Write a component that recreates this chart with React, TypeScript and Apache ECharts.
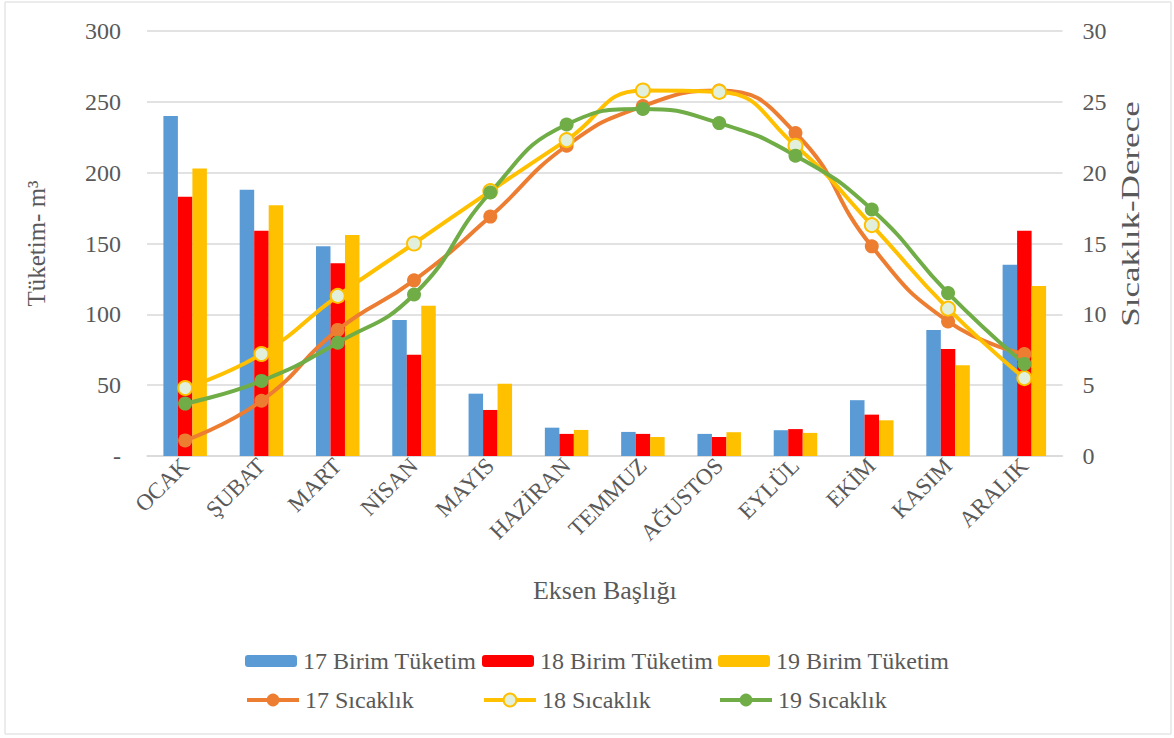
import React, { useEffect, useRef } from "react";
import * as echarts from "echarts";

const months = ["OCAK", "ŞUBAT", "MART", "NİSAN", "MAYIS", "HAZİRAN", "TEMMUZ", "AĞUSTOS", "EYLÜL", "EKİM", "KASIM", "ARALIK"];
const usage17 = [240, 188, 148, 96, 44, 20, 17, 15.6, 18.2, 39.4, 89, 135];
const usage18 = [183, 159, 136, 71.5, 32.5, 15.6, 15.6, 13.4, 19, 29.2, 75.5, 159];
const usage19 = [203, 177, 156, 106, 51, 18.4, 13.4, 16.8, 16.3, 25.2, 64, 120];
const temp17 = [1.1, 3.9, 8.9, 12.4, 16.9, 21.9, 24.7, 25.8, 22.8, 14.8, 9.5, 7.2];
const temp18 = [4.8, 7.2, 11.3, 15.0, 18.7, 22.3, 25.8, 25.7, 21.9, 16.3, 10.4, 5.5];
const temp19 = [3.7, 5.3, 8.0, 11.4, 18.6, 23.4, 24.5, 23.5, 21.2, 17.4, 11.5, 6.5];
const leftTicks = ["-", "50", "100", "150", "200", "250", "300"];
const rightTicks = ["0", "5", "10", "15", "20", "25", "30"];

const FONT = "'Liberation Serif', 'Times New Roman', serif";
const GREY = "#595959";

export default function App() {
  const ref = useRef<HTMLDivElement>(null);
  useEffect(() => {
    if (!ref.current) return;
    const chart = echarts.init(ref.current, null, { renderer: "svg" });
    const lineSeries = (name: string, data: number[], color: string, fill: string) => ({
      name,
      type: "line",
      yAxisIndex: 1,
      data,
      smooth: 0.5,
      symbol: "circle",
      symbolSize: 14,
      z: 5,
      lineStyle: { color, width: 4 },
      itemStyle: { color: fill, borderColor: color, borderWidth: fill === color ? 0 : 2 },
    });
    const barSeries = (name: string, data: number[], color: string) => ({
      name,
      type: "bar",
      data,
      barWidth: 14.5,
      barGap: "0%",
      itemStyle: { color },
    });
    const legendItem = (name: string, left: number, row: number) => ({
      orient: "horizontal",
      left,
      top: row === 0 ? 649 : 688,
      padding: 0,
      itemWidth: 52,
      itemHeight: row === 0 ? 12 : 16,
      itemGap: 6,
      lineStyle: { width: 4 },
      textStyle: { fontFamily: FONT, fontSize: 24, color: GREY, padding: [0, 0, 0, 1] },
      data: [name],
    });
    chart.setOption({
      animation: false,
      textStyle: { fontFamily: FONT },
      graphic: [
        {
          type: "rect",
          shape: { x: 5, y: 2, width: 1166, height: 732 },
          style: { fill: "none", stroke: "#d9d9d9", lineWidth: 1 },
          silent: true,
        },
        {
          type: "text",
          x: 1131,
          y: 214,
          rotation: Math.PI / 2,
          scaleX: 1.4,
          style: {
            text: "Sıcaklık-Derece",
            fontFamily: FONT,
            fontSize: 25,
            fill: GREY,
            align: "center",
            verticalAlign: "middle",
          },
          silent: true,
        },
      ],
      grid: { left: 147, right: 111.5, top: 31, bottom: 282, containLabel: false },
      legend: [
        legendItem("17 Birim Tüketim", 245, 0),
        legendItem("18 Birim Tüketim", 482, 0),
        legendItem("19 Birim Tüketim", 718, 0),
        legendItem("17 Sıcaklık", 245, 1),
        legendItem("18 Sıcaklık", 482, 1),
        legendItem("19 Sıcaklık", 718, 1),
      ],
      xAxis: {
        type: "category",
        data: months,
        name: "Eksen Başlığı",
        nameLocation: "middle",
        nameGap: 121,
        nameTextStyle: { fontFamily: FONT, fontSize: 26, color: GREY },
        axisLine: { lineStyle: { color: "#d9d9d9", width: 1.5 } },
        axisTick: { show: false },
        axisLabel: { rotate: 45, fontFamily: FONT, fontSize: 23, color: GREY, margin: 6, interval: 0 },
      },
      yAxis: [
        {
          type: "value",
          min: 0,
          max: 300,
          interval: 50,
          name: "Tüketim- m³",
          nameLocation: "middle",
          nameGap: 98,
          nameTextStyle: { fontFamily: FONT, fontSize: 25, color: GREY },
          axisLine: { show: false },
          axisTick: { show: false },
          splitLine: { lineStyle: { color: "#d9d9d9", width: 1.5 } },
          axisLabel: {
            fontFamily: FONT,
            fontSize: 24,
            color: GREY,
            margin: 26,
            formatter: (v: number) => leftTicks[Math.round(v / 50)],
          },
        },
        {
          type: "value",
          min: 0,
          max: 30,
          interval: 5,
          axisLine: { show: false },
          axisTick: { show: false },
          splitLine: { show: false },
          axisLabel: {
            fontFamily: FONT,
            fontSize: 24,
            color: GREY,
            margin: 20,
            formatter: (v: number) => rightTicks[Math.round(v / 5)],
          },
        },
      ],
      series: [
        barSeries("17 Birim Tüketim", usage17, "#5b9bd5"),
        barSeries("18 Birim Tüketim", usage18, "#ff0000"),
        barSeries("19 Birim Tüketim", usage19, "#ffc000"),
        lineSeries("17 Sıcaklık", temp17, "#ed7d31", "#ed7d31"),
        lineSeries("18 Sıcaklık", temp18, "#ffc000", "#e2efda"),
        lineSeries("19 Sıcaklık", temp19, "#70ad47", "#70ad47"),
      ],
    });
    return () => chart.dispose();
  }, []);
  return (
    <div
      ref={ref}
      style={{ position: "absolute", left: 0, top: 0, width: 1174, height: 738, background: "#fff" }}
    />
  );
}
